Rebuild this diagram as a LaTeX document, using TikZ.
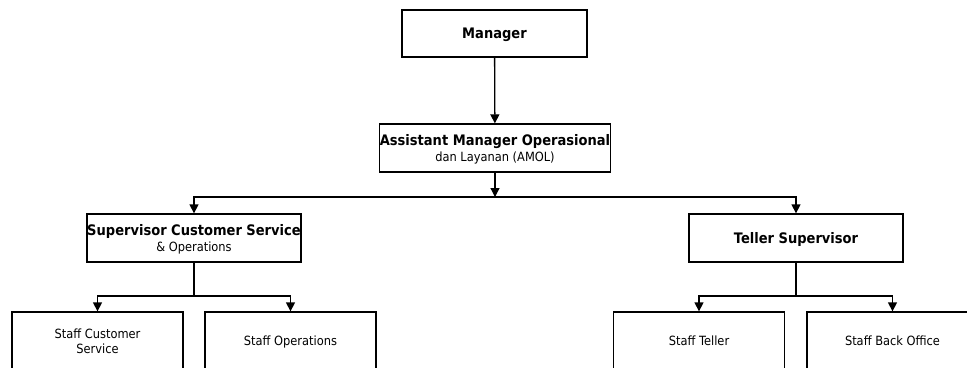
\documentclass[tikz,border=0pt]{standalone}
\usepackage{fontspec}
\setmainfont{DejaVu Sans}[FakeStretch=0.9]
\usetikzlibrary{arrows.meta}
\newcommand\bigb{\fontsize{14.5}{15}\selectfont\bfseries}
\begin{document}
\begin{tikzpicture}[x=1pt,y=-1pt,
  box/.style={draw, line width=1.3pt, inner sep=0pt, align=center, text depth=0pt,
    font=\fontsize{12.7}{15.5}\selectfont},
  topbox/.style={box, minimum height=48pt},
  staffbox/.style={box, minimum width=171pt, minimum height=58pt},
  arr/.style={line width=1.3pt, -{Triangle[width=9pt,length=9pt]}},
  ln/.style={line width=1.3pt}]
\useasboundingbox (0,0) rectangle (967,367);
\node[topbox, minimum width=185pt, minimum height=47pt] (mgr) at (494.5,33.5) {\bigb Manager};
\node[topbox, minimum width=228pt] (amol) at (495,148) {{\bigb Assistant Manager Operasional}\\dan Layanan (AMOL)};
\node[topbox, minimum width=214pt] (scs) at (194,238) {{\bigb Supervisor Customer Service}\\\& Operations};
\node[topbox, minimum width=214pt] (ts) at (796,238) {\bigb Teller Supervisor};
\node[staffbox] (s1) at (97.5,341) {Staff Customer\\Service};
\node[staffbox] (s2) at (290.5,341) {Staff Operations};
\node[staffbox] (s3) at (699,341) {Staff Teller};
\node[staffbox] (s4) at (892.5,341) {Staff Back Office};
\coordinate (j1) at (495,197);
\coordinate (j2) at (194,296);
\coordinate (j3) at (796,296);
\draw[arr] (mgr) -- (amol);
\draw[arr] (amol) -- (j1);
\draw[arr] (j1) -| (scs.north);
\draw[arr] (j1) -| (ts.north);
\draw[ln] (scs) -- (j2);
\draw[arr] (j2) -| (s1.north);
\draw[arr] (j2) -| (s2.north);
\draw[ln] (ts) -- (j3);
\draw[arr] (j3) -| (s3.north);
\draw[arr] (j3) -| (s4.north);
\end{tikzpicture}
\end{document}
